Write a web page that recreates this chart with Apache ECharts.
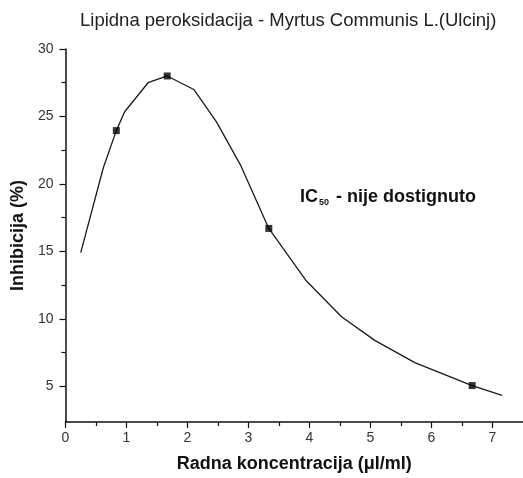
<!DOCTYPE html>
<html>
<head>
<meta charset="utf-8">
<script src="https://cdn.jsdelivr.net/npm/echarts@6/dist/echarts.min.js"></script>
<style>
  html, body { margin: 0; padding: 0; background: #fff; }
  #chart { width: 523px; height: 478px; }
</style>
</head>
<body>
<div id="chart"></div>
<script>
// Smoothed inhibition curve (vertices of the fitted line)
const curveX = [0.25, 0.62, 0.833, 0.97, 1.354, 1.667, 2.103, 2.475, 2.874, 3.333, 3.95, 4.525, 5.07, 5.726, 6.667, 7.157];
const curveY = [14.9, 21.2, 23.95, 25.35, 27.5, 28.0, 27.0, 24.6, 21.35, 16.7, 12.8, 10.15, 8.4, 6.75, 5.05, 4.32];

// Measured concentrations and inhibition
const measuredX = [0.833, 1.667, 3.333, 6.667];
const measuredY = [23.95, 28.0, 16.7, 5.05];

// Axis ticks
const xMajor = [0, 1, 2, 3, 4, 5, 6, 7];
const xMinor = [0.5, 1.5, 2.5, 3.5, 4.5, 5.5, 6.5];
const yMajor = [5, 10, 15, 20, 25, 30];
const yMinor = [7.5, 12.5, 17.5, 22.5, 27.5];

const FONT = '"Liberation Sans", Arial, sans-serif';
const X_MIN = 0, X_MAX = 7.5, Y_MIN = 2.35, Y_MAX = 30;

const chart = echarts.init(document.getElementById('chart'), null, { renderer: 'canvas' });

const baseX = {
  type: 'value', min: X_MIN, max: X_MAX, position: 'bottom',
  splitLine: { show: false }
};
const baseY = {
  type: 'value', min: Y_MIN, max: Y_MAX, position: 'left',
  splitLine: { show: false }
};

chart.setOption({
  animation: false,
  backgroundColor: '#ffffff',
  title: {
    text: 'Lipidna peroksidacija - Myrtus Communis L.(Ulcinj)',
    left: 80, top: 11, padding: 0,
    textStyle: { fontFamily: FONT, fontSize: 18.5, fontWeight: 'normal', color: '#222' }
  },
  grid: { left: 65.5, right: 0, top: 49, bottom: 55.5, containLabel: false },
  xAxis: [
    Object.assign({}, baseX, {
      name: 'Radna koncentracija (\u03bcl/ml)',
      nameLocation: 'middle', nameGap: 33,
      nameTextStyle: { fontFamily: FONT, fontSize: 18, fontWeight: 'bold', color: '#111' },
      axisLine: { show: true, lineStyle: { color: '#111', width: 1.5 } },
      axisTick: { show: true, length: 6, lineStyle: { color: '#111', width: 1.2 }, customValues: xMajor },
      axisLabel: { show: true, margin: 9, fontFamily: FONT, fontSize: 14, color: '#333', customValues: xMajor }
    }),
    Object.assign({}, baseX, {
      axisLine: { show: false },
      axisTick: { show: true, length: 4, lineStyle: { color: '#111', width: 1.2 }, customValues: xMinor },
      axisLabel: { show: false }
    })
  ],
  yAxis: [
    Object.assign({}, baseY, {
      name: 'Inhibicija (%)',
      nameLocation: 'middle', nameGap: 27, nameRotate: 90,
      nameTextStyle: { fontFamily: FONT, fontSize: 18, fontWeight: 'bold', color: '#111' },
      axisLine: { show: true, lineStyle: { color: '#111', width: 1.5 } },
      axisTick: { show: true, length: 6, lineStyle: { color: '#111', width: 1.2 }, customValues: yMajor },
      axisLabel: { show: true, margin: 12, fontFamily: FONT, fontSize: 14, color: '#333', customValues: yMajor }
    }),
    Object.assign({}, baseY, {
      axisLine: { show: false },
      axisTick: { show: true, length: 4, lineStyle: { color: '#111', width: 1.2 }, customValues: yMinor },
      axisLabel: { show: false }
    })
  ],
  graphic: [{
    type: 'text',
    left: 300, top: 188,
    style: {
      text: '{b|IC}{s|50}{b| - nije dostignuto}',
      rich: {
        b: { fontFamily: FONT, fontSize: 18, fontWeight: 'bold', fill: '#111', verticalAlign: 'bottom', height: 22 },
        s: { fontFamily: FONT, fontSize: 9, fontWeight: 'bold', fill: '#111', verticalAlign: 'bottom', height: 10, padding: [0, 2, 0, 1] }
      }
    }
  }],
  series: [
    {
      type: 'line',
      xAxisIndex: 0, yAxisIndex: 0,
      data: curveX.map((x, i) => [x, curveY[i]]),
      showSymbol: false,
      lineStyle: { color: '#1a1a1a', width: 1.3 },
      z: 2
    },
    {
      type: 'scatter',
      xAxisIndex: 0, yAxisIndex: 0,
      data: measuredX.map((x, i) => [x, measuredY[i]]),
      symbol: 'rect', symbolSize: 7,
      itemStyle: { color: '#000' },
      z: 3
    }
  ]
});
</script>
</body>
</html>
